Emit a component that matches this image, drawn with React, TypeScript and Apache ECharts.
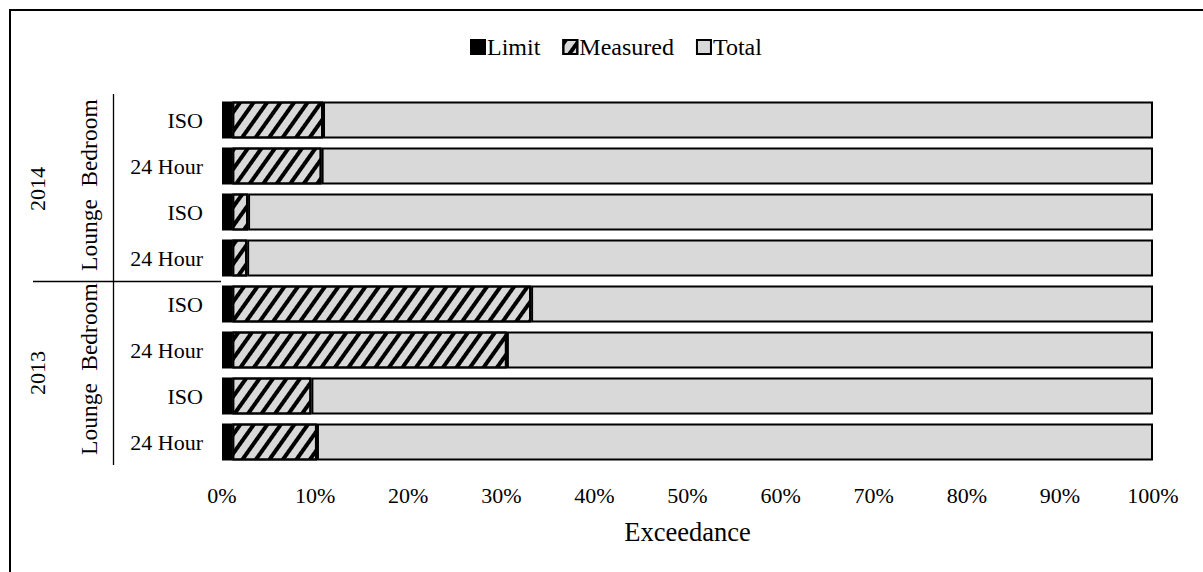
import React, { useEffect, useRef } from "react";
import * as echarts from "echarts";

// ---- data ----
const categories = ["ISO", "24 Hour", "ISO", "24 Hour", "ISO", "24 Hour", "ISO", "24 Hour"];
const rooms = ["Bedroom", "Lounge", "Bedroom", "Lounge"];
const years = ["2014", "2013"];
const seriesNames = ["Limit", "Measured", "Total"];
const limitValues = [1.1, 1.1, 1.1, 1.1, 1.1, 1.1, 1.1, 1.1];
const measuredValues = [9.75, 9.6, 1.7, 1.6, 32.1, 29.5, 8.5, 9.1];
const totalValues = [89.15, 89.3, 97.2, 97.3, 66.8, 69.4, 90.4, 89.8];
const xTickStep = 10;

// ---- layout ----
const W = 1203;
const H = 572;
const GRID_LEFT = 222;
const GRID_RIGHT = 50;
const GRID_TOP = 97;
const GRID_BOTTOM = 107;
const FONT = "'Liberation Serif', 'Times New Roman', serif";

export default function App() {
  const ref = useRef<HTMLDivElement>(null);

  useEffect(() => {
    if (!ref.current) return;
    const chart = echarts.init(ref.current, undefined, { renderer: "svg" });

    const plotH = H - GRID_TOP - GRID_BOTTOM;
    const rowH = plotH / categories.length;
    const roomX = 89;
    const yearX = 37;
    const lineX = 113.5;

    const graphics: any[] = [];
    // outer frame
    graphics.push({
      type: "rect",
      shape: { x: 10, y: 10, width: 1250, height: 650 },
      style: { fill: "none", stroke: "#000", lineWidth: 2 },
      silent: true,
    });
    // vertical divider between room labels and row labels
    graphics.push({
      type: "line",
      shape: { x1: lineX, y1: GRID_TOP - 3, x2: lineX, y2: GRID_TOP + plotH },
      style: { stroke: "#000", lineWidth: 1.3 },
    });
    // horizontal separator between years
    graphics.push({
      type: "line",
      shape: { x1: 33, y1: GRID_TOP + rowH * 4 + 0.5, x2: GRID_LEFT - 1, y2: GRID_TOP + rowH * 4 + 0.5 },
      style: { stroke: "#000", lineWidth: 1.3 },
    });
    rooms.forEach((r, i) => {
      graphics.push({
        type: "text",
        x: roomX,
        y: GRID_TOP + rowH * (2 * i + 1),
        rotation: Math.PI / 2,
        style: {
          text: r,
          font: `23.5px ${FONT}`,
          fill: "#000",
          align: "center",
          verticalAlign: "middle",
        },
      });
    });
    years.forEach((y, i) => {
      graphics.push({
        type: "text",
        x: yearX,
        y: GRID_TOP + rowH * (4 * i + 2),
        rotation: Math.PI / 2,
        style: {
          text: y,
          font: `22px ${FONT}`,
          fill: "#000",
          align: "center",
          verticalAlign: "middle",
        },
      });
    });

    const common = {
      type: "bar",
      stack: "all",
      barWidth: 37,
    };

    chart.setOption({
      animation: false,
      textStyle: { fontFamily: FONT, color: "#000" },
      legend: {
        top: 35,
        left: 470,
        padding: 0,
        itemWidth: 14,
        itemHeight: 14,
        itemGap: 22,
        icon: "rect",
        textStyle: { fontSize: 24, fontFamily: FONT, color: "#000", padding: [0, 0, 0, -3] },
        data: seriesNames,
      },
      grid: { left: GRID_LEFT, right: GRID_RIGHT, top: GRID_TOP, bottom: GRID_BOTTOM },
      xAxis: {
        type: "value",
        min: 0,
        max: 100,
        interval: xTickStep,
        axisLine: { show: false },
        axisTick: { show: false },
        splitLine: { show: false },
        axisLabel: {
          formatter: "{value}%",
          fontSize: 22,
          fontFamily: FONT,
          color: "#000",
          margin: 19,
        },
        name: "Exceedance",
        nameLocation: "middle",
        nameGap: 53,
        nameTextStyle: { fontSize: 26.5, fontFamily: FONT, color: "#000" },
      },
      yAxis: {
        type: "category",
        inverse: true,
        data: categories,
        axisLine: { show: false },
        axisTick: { show: false },
        axisLabel: {
          fontSize: 22,
          fontFamily: FONT,
          color: "#000",
          margin: 19,
          interval: 0,
        },
      },
      series: [
        {
          ...common,
          name: seriesNames[0],
          data: limitValues,
          itemStyle: { color: "#000", borderColor: "#000", borderWidth: 2 },
        },
        {
          ...common,
          name: seriesNames[1],
          data: measuredValues,
          itemStyle: {
            color: "#d9d9d9",
            borderColor: "#000",
            borderWidth: 2,
            decal: {
              symbol: "rect",
              symbolSize: 1,
              color: "#000",
              dashArrayX: [1, 0],
              dashArrayY: [3.5, 6.5],
              rotation: -Math.PI / 3.3,
            },
          },
        },
        {
          ...common,
          name: seriesNames[2],
          data: totalValues,
          itemStyle: { color: "#d9d9d9", borderColor: "#000", borderWidth: 2 },
        },
      ],
      graphic: graphics,
    });

    return () => chart.dispose();
  }, []);

  return (
    <div
      ref={ref}
      style={{ position: "absolute", left: 0, top: 0, width: W, height: H, background: "#fff" }}
    />
  );
}
